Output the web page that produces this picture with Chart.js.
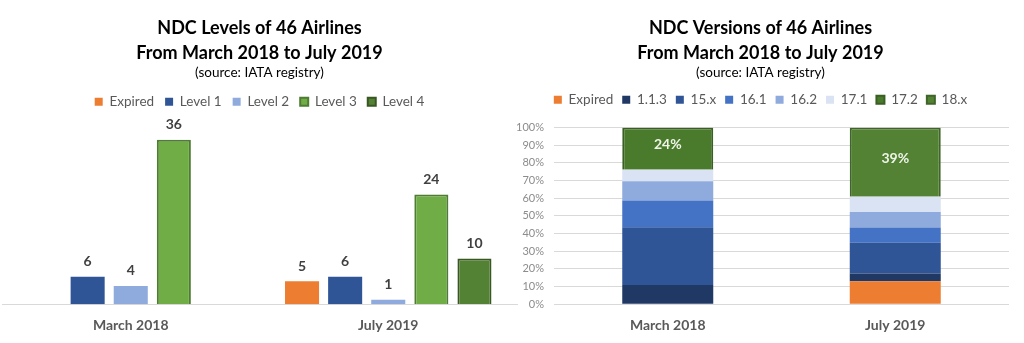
<!DOCTYPE html>
<html>
<head>
<meta charset="utf-8">
<script src="https://cdn.jsdelivr.net/npm/chart.js@4/dist/chart.umd.min.js"></script>
<style>
  html, body { margin: 0; padding: 0; background: #fff; }
  body { width: 1024px; height: 343px; position: relative; overflow: hidden; }
  #left { position: absolute; left: 0; top: 0; }
  #right { position: absolute; left: 512px; top: 0; }
</style>
</head>
<body>
<canvas id="left" width="520" height="343"></canvas>
<canvas id="right" width="512" height="343"></canvas>
<script>
// ---------- data ----------
const periods = ['March 2018', 'July 2019'];

// Left chart: number of airlines per NDC level
const levelNames = ['Expired', 'Level 1', 'Level 2', 'Level 3', 'Level 4'];
const expiredCounts = [null, 5];
const level1Counts = [6, 6];
const level2Counts = [4, 1];
const level3Counts = [36, 24];
const level4Counts = [null, 10];

// Right chart: share of airlines per NDC version (%)
const versionNames = ['Expired', '1.1.3', '15.x', '16.1', '16.2', '17.1', '17.2', '18.x'];
const vExpired = [0, 13.0];
const v113 = [10.9, 4.3];
const v15x = [32.6, 17.4];
const v161 = [15.2, 8.7];
const v162 = [10.9, 8.7];
const v171 = [6.5, 8.7];
const v172 = [23.9, 0];
const v18x = [0, 39.1];

// ---------- styles ----------
const FONT = 'Lato, "Open Sans", sans-serif';
Chart.defaults.font.family = FONT;
Chart.defaults.color = '#595959';

const titleOpts = (text) => ({
  display: true,
  text: [text, 'From March 2018 to July 2019'],
  font: { size: 18, weight: 'bold', family: FONT, lineHeight: 1.38 },
  color: '#000',
  padding: { top: 16, bottom: 0 }
});
const subOpts = {
  display: true,
  text: '(source: IATA registry)',
  font: { size: 13.5, family: FONT },
  color: '#000',
  padding: { top: -1, bottom: 3 }
};
const legendOpts = (pad) => ({
  position: 'top',
  labels: {
    boxWidth: 8, boxHeight: 8, padding: pad,
    font: { size: 13.5, family: FONT }, color: '#595959'
  }
});

// extra space below the legend
const legendGap = {
  id: 'legendGap',
  beforeInit(chart, args, opts) {
    const orig = chart.legend.fit;
    chart.legend.fit = function () {
      orig.call(this);
      this.height += opts.extra || 0;
    };
  }
};

// value labels on left bars
const valueLabels = {
  id: 'valueLabels',
  afterDatasetsDraw(chart) {
    const ctx = chart.ctx;
    ctx.save();
    ctx.font = 'bold 14px ' + FONT;
    ctx.fillStyle = '#404040';
    ctx.textAlign = 'center';
    ctx.textBaseline = 'middle';
    chart.data.datasets.forEach((ds, i) => {
      const meta = chart.getDatasetMeta(i);
      if (meta.hidden) return;
      meta.data.forEach((bar, j) => {
        const v = ds.data[j];
        if (v === null || v === undefined) return;
        ctx.fillText(String(v), bar.x, bar.y - 15);
      });
    });
    ctx.restore();
  }
};

new Chart(document.getElementById('left'), {
  type: 'bar',
  data: {
    labels: periods,
    datasets: [
      { label: levelNames[0], data: expiredCounts, backgroundColor: '#ed7d31' },
      { label: levelNames[1], data: level1Counts, backgroundColor: '#2f5597' },
      { label: levelNames[2], data: level2Counts, backgroundColor: '#8faadc' },
      { label: levelNames[3], data: level3Counts, backgroundColor: '#70ad47', borderColor: '#4e7d31', borderWidth: 2 },
      { label: levelNames[4], data: level4Counts, backgroundColor: '#548235', borderColor: '#385723', borderWidth: 2 }
    ]
  },
  options: {
    responsive: false,
    animation: false,
    maintainAspectRatio: false,
    layout: { padding: { left: 2, right: 3, bottom: 4, top: 0 } },
    datasets: { bar: { categoryPercentage: 0.837, barPercentage: 0.79, skipNull: false } },
    plugins: {
      title: titleOpts('NDC Levels of 46 Airlines'),
      subtitle: subOpts,
      legend: legendOpts(11),
      legendGap: { extra: 3 },
      tooltip: { enabled: false }
    },
    scales: {
      x: {
        grid: { display: false },
        border: { display: true, color: '#d9d9d9', width: 1 },
        ticks: { font: { size: 14, weight: 'bold', family: FONT }, color: '#595959', padding: 5 }
      },
      y: { display: false, min: 0, max: 40 }
    }
  },
  plugins: [legendGap, valueLabels]
});

// right chart
const pctLabels = {
  id: 'pctLabels',
  afterDatasetsDraw(chart) {
    const ctx = chart.ctx;
    ctx.save();
    ctx.font = 'bold 14px ' + FONT;
    ctx.fillStyle = '#eef4e8';
    ctx.textAlign = 'center';
    ctx.textBaseline = 'middle';
    chart.data.datasets.forEach((ds, i) => {
      if (ds.label !== '17.2' && ds.label !== '18.x') return;
      const meta = chart.getDatasetMeta(i);
      meta.data.forEach((bar, j) => {
        const v = ds.data[j];
        if (!v) return;
        const cy = (bar.y + bar.base) / 2 - 4;
        ctx.fillText(Math.round(v) + '%', bar.x, cy);
      });
    });
    ctx.restore();
  }
};

new Chart(document.getElementById('right'), {
  type: 'bar',
  data: {
    labels: periods,
    datasets: [
      { label: versionNames[0], data: vExpired, backgroundColor: '#ed7d31' },
      { label: versionNames[1], data: v113, backgroundColor: '#203864' },
      { label: versionNames[2], data: v15x, backgroundColor: '#2f5597' },
      { label: versionNames[3], data: v161, backgroundColor: '#4472c4' },
      { label: versionNames[4], data: v162, backgroundColor: '#8faadc' },
      { label: versionNames[5], data: v171, backgroundColor: '#dae3f3' },
      { label: versionNames[6], data: v172, backgroundColor: '#4a7a2c', borderColor: '#3a5f22', borderWidth: 2 },
      { label: versionNames[7], data: v18x, backgroundColor: '#548235', borderColor: '#3f6628', borderWidth: 2 }
    ]
  },
  options: {
    responsive: false,
    animation: false,
    maintainAspectRatio: false,
    layout: { padding: { left: 0, right: 15, bottom: 4, top: 0 } },
    datasets: { bar: { categoryPercentage: 1, barPercentage: 0.4 } },
    plugins: {
      title: titleOpts('NDC Versions of 46 Airlines'),
      subtitle: subOpts,
      legend: legendOpts(9),
      legendGap: { extra: 11 },
      tooltip: { enabled: false }
    },
    scales: {
      x: {
        stacked: true,
        grid: { display: false },
        border: { display: false },
        ticks: { font: { size: 14, weight: 'bold', family: FONT }, color: '#595959', padding: 5 }
      },
      y: {
        stacked: true,
        min: 0, max: 100,
        grid: { display: true, color: '#d9d9d9', drawTicks: false },
        border: { display: false },
        afterFit(scale) { scale.width = 42; },
        ticks: {
          stepSize: 10,
          padding: 10,
          font: { size: 11, family: FONT },
          color: '#8c8c8c',
          callback: (v) => v + '%'
        }
      }
    }
  },
  plugins: [legendGap, pctLabels]
});
</script>
</body>
</html>
